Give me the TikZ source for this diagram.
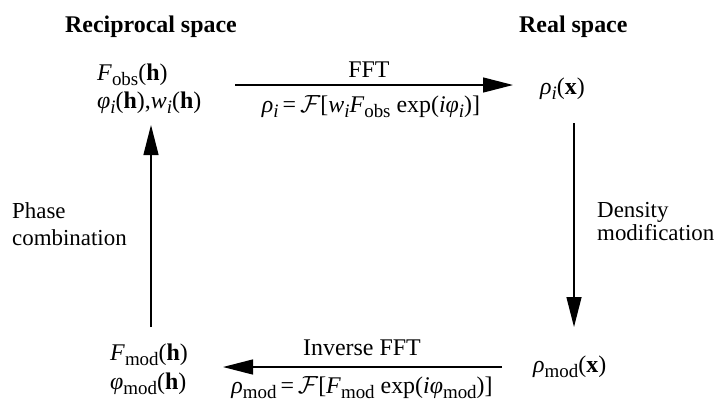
\documentclass[tikz,border=0pt]{standalone}
\usepackage{fontspec}
\setmainfont{Liberation Serif}
\usetikzlibrary{arrows.meta}
\newcommand{\lsub}[1]{\raisebox{-0.24em}{\fontsize{19}{19}\selectfont #1}}
\newcommand{\vi}[1]{\textit{#1}}
\begin{document}
\begin{tikzpicture}[x=1bp,y=-1bp,
  every node/.style={inner sep=0pt, font=\fontsize{24}{28}\selectfont},
  lbl/.style={anchor=base west},
  ctr/.style={anchor=base},
  side/.style={anchor=base west, font=\fontsize{23}{27}\selectfont},
  arr/.style={line width=1.3bp, -{Triangle[length=30bp,width=15bp]}}]
\useasboundingbox (0,0) rectangle (717,404);
% titles
\node[lbl,font=\fontsize{24}{28}\selectfont\bfseries] (recip) at (65,32) {Reciprocal space};
\node[lbl,font=\fontsize{24}{28}\selectfont\bfseries] (real) at (519,32) {Real space};
% corner quantities
\node[lbl] (fobs) at (97,80) {\vi{F}\lsub{obs}(\textbf{h})};
\node[lbl] (phii) at (97,108) {\vi{φ}\lsub{\vi{i}}(\textbf{h}),\vi{w}\lsub{\vi{i}}(\textbf{h})};
\node[lbl] (rhoi) at (540,94) {\vi{ρ}\lsub{\vi{i}}(\textbf{x})};
\node[lbl] (fmod) at (110,360) {\vi{F}\lsub{mod}(\textbf{h})};
\node[lbl] (phimod) at (110,389) {\vi{φ}\lsub{mod}(\textbf{h})};
\node[lbl] (rhomod) at (533,372) {\vi{ρ}\lsub{mod}(\textbf{x})};
% connector labels
\node[ctr] (fft) at (369,77) {FFT};
\node[ctr] (ffteq) at (371,112) {\vi{ρ}\lsub{\vi{i}}\,=\,$\mathcal{F}$[\vi{w}\lsub{\vi{i}}\vi{F}\lsub{obs} exp(\vi{i}\vi{φ}\lsub{\vi{i}})]};
\node[ctr] (ifft) at (362,355) {Inverse FFT};
\node[ctr] (iffteq) at (362,393) {\vi{ρ}\lsub{mod}\,=\,$\mathcal{F}$[\vi{F}\lsub{mod} exp(\vi{i}\vi{φ}\lsub{mod})]};
\node[side] (phase1) at (12,218) {Phase};
\node[side] (phase2) at (12,245) {combination};
\node[side] (dens1) at (597,217) {Density};
\node[side] (dens2) at (597,240) {modification};
% connector end points
\coordinate (ta) at (235,85);
\coordinate (tb) at (513,85);
\coordinate (ra) at (574,123);
\coordinate (rb) at (574,327);
\coordinate (ba) at (502,367);
\coordinate (bb) at (223,367);
\coordinate (la) at (151,327);
\coordinate (lb) at (151,125);
\draw[arr] (ta) -- (tb);
\draw[arr] (ra) -- (rb);
\draw[arr] (ba) -- (bb);
\draw[arr] (la) -- (lb);
\end{tikzpicture}
\end{document}
